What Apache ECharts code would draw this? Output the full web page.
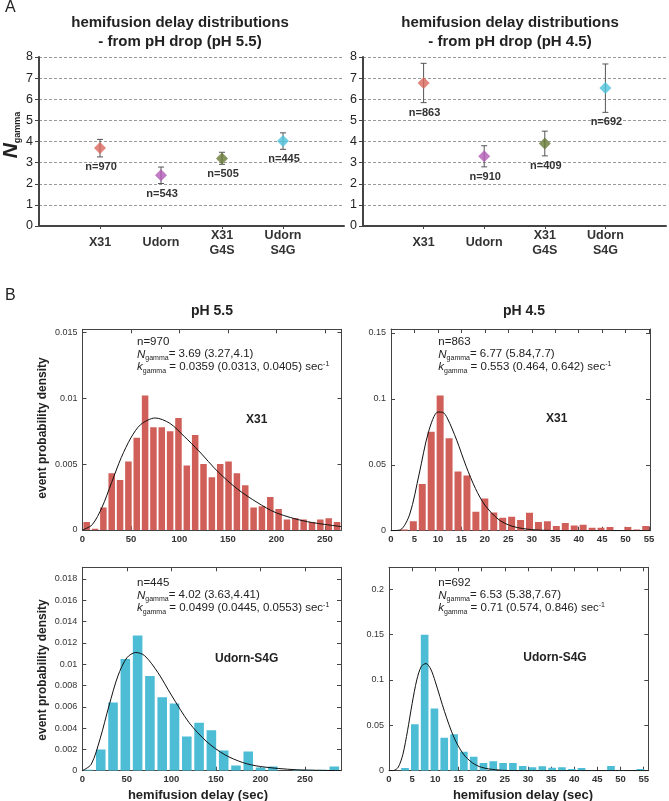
<!DOCTYPE html>
<html><head><meta charset="utf-8">
<script src="https://cdn.jsdelivr.net/npm/echarts@6/dist/echarts.min.js"></script>
<style>html,body{margin:0;padding:0;background:#fff}#c{width:669px;height:801px}</style>
</head><body><div id="c"></div>
<script>
// ---------- Panel A data ----------
const catsA = ['X31', 'Udorn', 'X31\nG4S', 'Udorn\nS4G'];
const mean55 = [3.69, 2.40, 3.20, 4.02];
const lo55 = [3.27, 2.01, 2.92, 3.63];
const hi55 = [4.10, 2.79, 3.49, 4.41];
const n55 = [970, 543, 505, 445];
const mean45 = [6.77, 3.30, 3.90, 6.53];
const lo45 = [5.84, 2.80, 3.32, 5.38];
const hi45 = [7.70, 3.80, 4.49, 7.67];
const n45 = [863, 910, 409, 692];
const yTicksA = [0, 1, 2, 3, 4, 5, 6, 7, 8];
const pointColors = ['#d9685c', '#b35bb6', '#687a36', '#4cc3dc'];

// ---------- Panel B histogram data (event probability density per bin) ----------
const x31_55_start = 0, x31_55_width = 8.61;
const x31_55_hist = [0.0006, 0.0001, 0.0017, 0.0043, 0.0038, 0.0052, 0.0070, 0.0102, 0.0078, 0.0078, 0.0075, 0.0085, 0.0049, 0.0072, 0.0050, 0.0040, 0.0050, 0.0052, 0.0043, 0.0034, 0.0017, 0.0018, 0.0025, 0.0016, 0.0008, 0.0009, 0.0008, 0.0006, 0.0008, 0.0009, 0.0006];
const x31_55_fit = [[0, 0], [10, 0.0004], [20, 0.0017], [30, 0.0036], [40, 0.0055], [50, 0.0070], [60, 0.0080], [75, 0.0085], [90, 0.0081], [105, 0.0071], [120, 0.0060], [140, 0.0044], [160, 0.0031], [180, 0.0021], [200, 0.0013], [230, 0.00066], [267, 0.00026]];

const x31_45_start = 1.9, x31_45_width = 1.905;
const x31_45_hist = [0.001, 0.0071, 0.0354, 0.075, 0.1025, 0.0702, 0.045, 0.0419, 0.0144, 0.0245, 0.0139, 0.0098, 0.0106, 0.0081, 0.0136, 0.0066, 0.0071, 0.0035, 0.0058, 0.004, 0.0045, 0.0023, 0.0023, 0.0028, 0, 0.0028, 0.001, 0.0035];
const x31_45_fit = [[0, 0], [2, 0.0007], [4, 0.0126], [6, 0.043], [8, 0.075], [10, 0.090], [11, 0.0898], [12, 0.0854], [14, 0.0687], [16, 0.049], [18, 0.032], [20, 0.0195], [23, 0.0083], [26, 0.0032], [30, 0.0008], [35, 0.0001], [40, 0], [55.2, 0]];

const s4g_55_start = 0, s4g_55_width = 13.8;
const s4g_55_hist = [0.0001, 0.0020, 0.0064, 0.0105, 0.0127, 0.0089, 0.0069, 0.0063, 0.0032, 0.0045, 0.0038, 0.0019, 0.0005, 0.0018, 0.0003, 0.0004, 0.0000, 0.0001, 0.0001, 0.0001, 0.0004];
const s4g_55_fit = [[0, 0], [10, 0.0006], [20, 0.0030], [30, 0.0061], [40, 0.0089], [50, 0.0106], [60, 0.0111], [70, 0.0108], [85, 0.0092], [100, 0.0071], [120, 0.0045], [140, 0.0027], [160, 0.0015], [180, 0.00077], [200, 0.00039], [240, 0.00009], [290, 0.00001]];

const s4g_45_start = 2.4, s4g_45_width = 2.118;
const s4g_45_hist = [0.0029, 0.0511, 0.1496, 0.0684, 0.0364, 0.0401, 0.021, 0.0154, 0.0085, 0.0103, 0.0085, 0.0085, 0.0051, 0.0037, 0.0048, 0.0033, 0.0037, 0.0018, 0.0029, 0.0007, 0, 0.0051, 0.0007, 0, 0.0018];
const s4g_45_fit = [[0, 0], [1, 0.0002], [2, 0.0039], [3, 0.018], [4, 0.044], [5, 0.074], [6, 0.100], [7, 0.115], [8, 0.118], [9, 0.112], [10, 0.098], [12, 0.065], [14, 0.037], [16, 0.0187], [18, 0.0087], [20, 0.0037], [23, 0.001], [26, 0.0002], [30, 0], [56, 0]];

// ---------- setup ----------
const FONT = 'Liberation Sans';
const RED = '#cf5f58', CYAN = '#4dbdd6';
const chart = echarts.init(document.getElementById('c'), null, {renderer: 'canvas'});

const grids = [], xAxes = [], yAxes = [], series = [], graphics = [];

// Panel A
function panelA(gi, left, means, los, his, ns) {
  grids.push({left: left, top: 57, width: 305, height: 169});
  const xi = xAxes.length, yi = yAxes.length;
  xAxes.push({
    type: 'category', gridIndex: gi, data: ['', ...catsA, ''], boundaryGap: false,
    axisLine: {lineStyle: {color: '#444', width: 2}},
    axisTick: {show: true, length: 3, interval: (i, v) => v !== '', lineStyle: {color: '#444'}},
    axisLabel: {interval: 0, fontFamily: FONT, fontWeight: 'bold', fontSize: 12.5, color: '#333', margin: 17, verticalAlign: 'middle', lineHeight: 15},
    splitLine: {show: false}
  });
  yAxes.push({
    type: 'value', gridIndex: gi, min: yTicksA[0], max: yTicksA[yTicksA.length - 1], interval: 1,
    axisLine: {show: true, lineStyle: {color: '#444', width: 2}},
    axisTick: {show: true, length: 4, lineStyle: {color: '#444'}},
    axisLabel: {fontFamily: FONT, fontSize: 12.5, color: '#222', margin: 6},
    splitLine: {show: true, lineStyle: {color: '#9a9a9a', type: [3, 2], width: 1}}
  });
  series.push({
    type: 'custom', xAxisIndex: xi, yAxisIndex: yi, z: 3,
    data: means.map((m, i) => [i + 1, los[i], his[i], ns[i]]),
    encode: {x: 0, y: [1, 2]},
    renderItem: (p, api) => {
      const x = api.value(0);
      const t = api.coord([x, api.value(2)]), b = api.coord([x, api.value(1)]);
      const ls = {stroke: '#555', lineWidth: 1};
      return {type: 'group', children: [
        {type: 'line', shape: {x1: t[0], y1: t[1], x2: b[0], y2: b[1]}, style: ls},
        {type: 'line', shape: {x1: t[0] - 3, y1: t[1], x2: t[0] + 3, y2: t[1]}, style: ls},
        {type: 'line', shape: {x1: b[0] - 3, y1: b[1], x2: b[0] + 3, y2: b[1]}, style: ls},
        {type: 'text', x: b[0] + 1, y: b[1] + 10, style: {text: 'n=' + api.value(3), fill: '#333', font: 'bold 11px ' + FONT, align: 'center', verticalAlign: 'middle'}}
      ]};
    }
  });
  series.push({
    type: 'scatter', xAxisIndex: xi, yAxisIndex: yi, z: 5, symbol: 'diamond', symbolSize: 12,
    data: means.map((m, i) => ({value: [i + 1, m], itemStyle: {color: pointColors[i]}}))
  });
}

// Panel B
function panelB(gi, g, xmax, xint, ymax, yint, start, width, hist, fit, color) {
  grids.push({left: g[0], top: g[1], width: g[2], height: g[3]});
  const xi = xAxes.length, yi = yAxes.length;
  const line = {show: true, onZero: false, lineStyle: {color: '#444', width: 1}};
  const tick = {show: true, inside: true, length: 4, lineStyle: {color: '#444'}};
  xAxes.push({type: 'value', gridIndex: gi, position: 'bottom', min: 0, max: xmax, interval: xint,
    axisLine: line, axisTick: tick, splitLine: {show: false},
    axisLabel: {fontFamily: FONT, fontWeight: 'bold', fontSize: 9.5, color: '#333', margin: 4, showMaxLabel: false}});
  xAxes.push({type: 'value', gridIndex: gi, position: 'top', min: 0, max: xmax, interval: xint,
    axisLine: line, axisTick: tick, splitLine: {show: false}, axisLabel: {show: false}});
  yAxes.push({type: 'value', gridIndex: gi, position: 'left', min: 0, max: ymax, interval: yint,
    axisLine: line, axisTick: tick, splitLine: {show: false},
    axisLabel: {fontFamily: FONT, fontSize: 9, color: '#333', margin: 5, showMaxLabel: false}});
  yAxes.push({type: 'value', gridIndex: gi, position: 'right', min: 0, max: ymax, interval: yint,
    axisLine: line, axisTick: tick, splitLine: {show: false}, axisLabel: {show: false}});
  series.push({
    type: 'custom', xAxisIndex: xi, yAxisIndex: yi, clip: true,
    data: hist.map((h, i) => [start + (i + 0.11) * width, start + (i + 0.89) * width, h]),
    encode: {x: [0, 1], y: 2},
    renderItem: (p, api) => {
      const a = api.coord([api.value(0), 0]), b = api.coord([api.value(1), api.value(2)]);
      return {type: 'rect', shape: {x: a[0], y: b[1], width: b[0] - a[0], height: a[1] - b[1]}, style: {fill: color}};
    }
  });
  series.push({
    type: 'line', xAxisIndex: xi, yAxisIndex: yi, data: fit, smooth: 0.3, showSymbol: false, symbol: 'none',
    lineStyle: {color: '#111', width: 1}, z: 4, clip: true
  });
}

panelA(0, 39, mean55, lo55, hi55, n55);
panelA(1, 363, mean45, lo45, hi45, n45);
panelB(2, [82.5, 329.3, 259, 200.7], 267.2, 50, 0.01523, 0.005, x31_55_start, x31_55_width, x31_55_hist, x31_55_fit, RED);
panelB(3, [391, 329, 259, 201.7], 55.2, 5, 0.153, 0.05, x31_45_start, x31_45_width, x31_45_hist, x31_45_fit, RED);
panelB(4, [82.3, 567.3, 258.7, 203.4], 290.4, 50, 0.0191, 0.002, s4g_55_start, s4g_55_width, s4g_55_hist, s4g_55_fit, CYAN);
panelB(5, [389, 567.3, 259.3, 203.4], 56, 5, 0.224, 0.05, s4g_45_start, s4g_45_width, s4g_45_hist, s4g_45_fit, CYAN);

// ---------- text ----------
function T(x, y, text, font, align, extra) {
  graphics.push(Object.assign({type: 'text', x: x, y: y, z: 10,
    style: {text: text, font: font, fill: '#222', align: align || 'center', verticalAlign: 'middle'}}, extra || {}));
}
T(5, 8, 'A', '16px ' + FONT, 'left');
T(5, 296, 'B', '16px ' + FONT, 'left');
T(180, 23, 'hemifusion delay distributions', 'bold 15px ' + FONT);
T(180, 42, '- from pH drop (pH 5.5)', 'bold 15px ' + FONT);
T(510, 23, 'hemifusion delay distributions', 'bold 15px ' + FONT);
T(510, 42, '- from pH drop (pH 4.5)', 'bold 15px ' + FONT);
graphics.push({type: 'text', x: 11, y: 135, rotation: Math.PI / 2, z: 10,
  style: {text: '{n|N}{g|gamma}', align: 'center', verticalAlign: 'middle',
    rich: {n: {font: 'italic bold 21px ' + FONT, fill: '#222', lineHeight: 22, verticalAlign: 'middle'},
           g: {font: 'bold 9px ' + FONT, fill: '#222', lineHeight: 22, verticalAlign: 'bottom'}}}});

T(212, 311, 'pH 5.5', 'bold 14px ' + FONT);
T(524, 311, 'pH 4.5', 'bold 14px ' + FONT);
T(43, 428, 'event probability density', 'bold 12px ' + FONT, 'center', {rotation: Math.PI / 2});
T(43, 670, 'event probability density', 'bold 12px ' + FONT, 'center', {rotation: Math.PI / 2});
T(198, 795, 'hemifusion delay (sec)', 'bold 13px ' + FONT);
T(523, 795, 'hemifusion delay (sec)', 'bold 13px ' + FONT);

const richAnn = {
  i: {font: 'italic 11.5px ' + FONT, fill: '#222', lineHeight: 14, verticalAlign: 'middle'},
  s: {font: '7px ' + FONT, fill: '#222', lineHeight: 14, verticalAlign: 'bottom'},
  r: {font: '11.5px ' + FONT, fill: '#222', lineHeight: 14, verticalAlign: 'middle'},
  u: {font: '7px ' + FONT, fill: '#222', lineHeight: 14, verticalAlign: 'top'}
};
function annot(x, y, nTxt, nLine, kLine, strain, sx, sy) {
  T(x, y, nTxt, '11.5px ' + FONT, 'left');
  graphics.push({type: 'text', x: x, y: y + 12.6, z: 10, style: {text: '{i|N}{s|gamma}{r|' + nLine + '}', rich: richAnn, align: 'left', verticalAlign: 'middle'}});
  graphics.push({type: 'text', x: x, y: y + 25.4, z: 10, style: {text: '{i|k}{s|gamma}{r|' + kLine + '}{u|-1}', rich: richAnn, align: 'left', verticalAlign: 'middle'}});
  T(sx, sy, strain, 'bold 12px ' + FONT);
}
annot(137, 341.7, 'n=970', '= 3.69 (3.27,4.1)', ' = 0.0359 (0.0313, 0.0405) sec', 'X31', 256.7, 419.3);
annot(438.3, 341.7, 'n=863', '= 6.77 (5.84,7.7)', ' = 0.553 (0.464, 0.642) sec', 'X31', 556.7, 419);
annot(137, 582.7, 'n=445', '= 4.02 (3.63,4.41)', ' = 0.0499 (0.0445, 0.0553) sec', 'Udorn-S4G', 246.7, 659);
annot(438.3, 582.7, 'n=692', '= 6.53 (5.38,7.67)', ' = 0.71 (0.574, 0.846) sec', 'Udorn-S4G', 555, 658);

chart.setOption({
  animation: false,
  textStyle: {fontFamily: FONT},
  grid: grids, xAxis: xAxes, yAxis: yAxes, series: series, graphic: graphics
});
</script></body></html>
